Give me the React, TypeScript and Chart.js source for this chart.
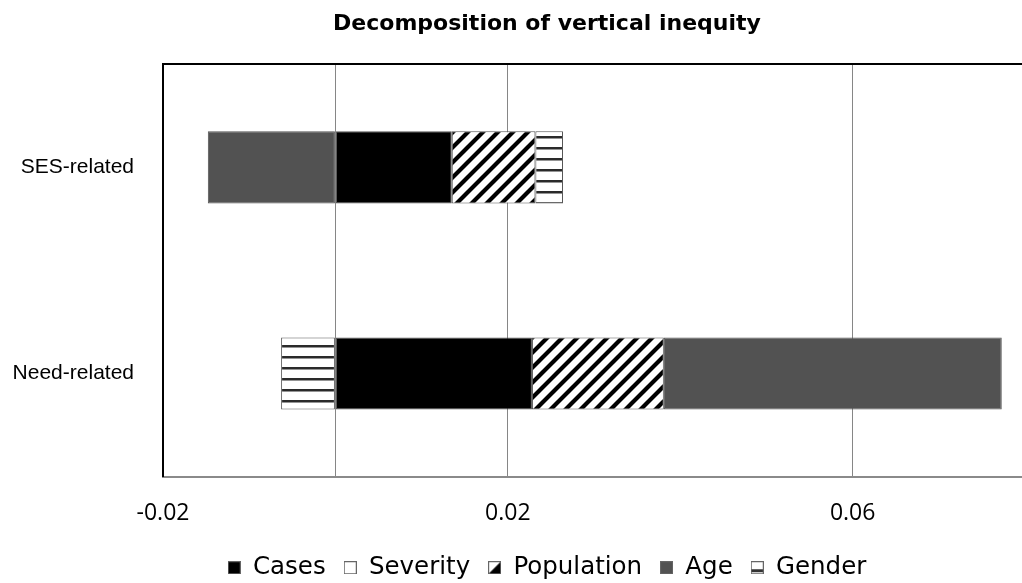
import React, { useEffect, useRef } from 'react';
import { Chart, registerables } from 'chart.js';

Chart.register(...registerables);

// ---- data ----
const categories = ['SES-related', 'Need-related'];
const seriesNames = ['Cases', 'Severity', 'Population', 'Age', 'Gender'];
const casesValues = [0.0135, 0.0228];
const severityValues = [0, 0];
const populationValues = [0.0097, 0.0153];
const ageValues = [-0.0148, 0.0392];
const genderValues = [0.0032, -0.0063];
const xTickValues = [-0.02, 0, 0.02, 0.06];
const xTickLabels = ['-0.02', '', '0.02', '0.06'];
const xMin = -0.02;
const xMax = 0.088;
const titleText = 'Decomposition of vertical inequity';

// ---- layout constants ----
const W = 1094;
const H = 590;
const LEGEND_H = 52;
const PLOT_BOTTOM = 477;

function makeTile(size: number, draw: (g: CanvasRenderingContext2D, s: number) => void) {
  const c = document.createElement('canvas');
  c.width = size;
  c.height = size;
  const g = c.getContext('2d')!;
  draw(g, size);
  return c;
}

function diagTile() {
  return makeTile(15, (g, s) => {
    g.fillStyle = '#fff';
    g.fillRect(0, 0, s, s);
    g.strokeStyle = '#000';
    g.lineWidth = 4.2;
    g.beginPath();
    g.moveTo(-s / 2, s * 1.5);
    g.lineTo(s * 1.5, -s / 2);
    g.moveTo(-s / 2, s / 2);
    g.lineTo(s / 2, -s / 2);
    g.moveTo(s / 2, s * 1.5);
    g.lineTo(s * 1.5, s / 2);
    g.stroke();
  });
}

function hTile() {
  return makeTile(11, (g, s) => {
    g.fillStyle = '#fff';
    g.fillRect(0, 0, s, s);
    g.fillStyle = '#2a2a2a';
    g.fillRect(0, 4, s, 2.5);
  });
}

function legendIcon(kind: string) {
  return makeTile(13, (g, s) => {
    g.fillStyle = '#fff';
    g.fillRect(0, 0, s, s);
    if (kind === 'Cases') {
      g.fillStyle = '#000';
      g.fillRect(0, 0, s, s);
    } else if (kind === 'Age') {
      g.fillStyle = '#525252';
      g.fillRect(0, 0, s, s);
    } else if (kind === 'Population') {
      g.fillStyle = '#000';
      g.beginPath();
      g.moveTo(s, 0);
      g.lineTo(s, s);
      g.lineTo(0, s);
      g.closePath();
      g.fill();
    } else if (kind === 'Gender') {
      g.fillStyle = '#333';
      g.fillRect(0, 8, s, 3);
    }
    g.strokeStyle = '#666';
    g.lineWidth = 1;
    g.strokeRect(0.5, 0.5, s - 1, s - 1);
  });
}

export default function App() {
  const ref = useRef<HTMLCanvasElement>(null);

  useEffect(() => {
    const canvas = ref.current!;
    const ctx = canvas.getContext('2d')!;
    const popPattern = ctx.createPattern(diagTile(), 'repeat')!;
    const genPattern = ctx.createPattern(hTile(), 'repeat')!;
    const icons = seriesNames.map((n) => legendIcon(n));

    Chart.defaults.font.family = "'DejaVu Sans', sans-serif";
    Chart.defaults.color = '#000';

    const border = '#555555';
    const chart = new Chart(ctx, {
      type: 'bar',
      data: {
        labels: categories,
        datasets: [
          { label: seriesNames[0], data: casesValues, backgroundColor: '#000', borderColor: border, borderWidth: 1, borderSkipped: false },
          { label: seriesNames[1], data: severityValues, backgroundColor: '#fff', borderColor: border, borderWidth: 0, borderSkipped: false },
          { label: seriesNames[2], data: populationValues, backgroundColor: popPattern as any, borderColor: border, borderWidth: 1, borderSkipped: false },
          { label: seriesNames[3], data: ageValues, backgroundColor: '#525252', borderColor: border, borderWidth: 1, borderSkipped: false },
          { label: seriesNames[4], data: genderValues, backgroundColor: genPattern as any, borderColor: border, borderWidth: 1, borderSkipped: false },
        ],
      },
      options: {
        indexAxis: 'y',
        responsive: false,
        animation: false,
        devicePixelRatio: 1,
        layout: { padding: 0 },
        datasets: { bar: { categoryPercentage: 1, barPercentage: 0.35 } },
        scales: {
          x: {
            type: 'linear',
            stacked: true,
            min: xMin,
            max: xMax,
            afterBuildTicks: (s: any) => {
              s.ticks = xTickValues.map((v) => ({ value: v }));
            },
            afterFit: (s: any) => {
              s.height = H - LEGEND_H - PLOT_BOTTOM;
            },
            grid: { color: '#868686', lineWidth: 1, drawTicks: false },
            border: { display: true, color: '#8a8a8a', width: 2 },
            ticks: {
              padding: 23,
              font: { family: "'Open Sans', sans-serif", size: 23 },
              color: '#000',
              callback: (v: any) => {
                const i = xTickValues.findIndex((t) => Math.abs(t - Number(v)) < 1e-9);
                return i >= 0 ? xTickLabels[i] : '';
              },
            },
          },
          x2: {
            type: 'linear',
            position: 'top',
            min: xMin,
            max: xMax,
            grid: { display: false, drawTicks: false },
            ticks: { display: false },
            border: { display: true, color: '#000', width: 2 },
            afterFit: (s: any) => {
              s.height = 0;
            },
          },
          y: {
            stacked: true,
            grid: { display: false, drawTicks: false },
            border: { display: true, color: '#000', width: 2 },
            afterFit: (s: any) => {
              s.width = 163;
            },
            ticks: {
              padding: 29,
              font: { family: "'Liberation Sans', Arial, sans-serif", size: 21 },
              color: '#000',
            },
          },
        },
        plugins: {
          title: {
            display: true,
            text: titleText,
            color: '#000',
            font: { family: "'DejaVu Sans', sans-serif", size: 22, weight: 'bold' },
            padding: { top: 11, bottom: 27 },
          },
          legend: {
            position: 'bottom',
            labels: {
              usePointStyle: true,
              pointStyleWidth: 13,
              boxHeight: 13,
              padding: 18,
              color: '#000',
              font: { family: "'DejaVu Sans', sans-serif", size: 24.5 },
              generateLabels: (c: any) =>
                (Chart.defaults.plugins.legend.labels.generateLabels as any)(c).map((l: any, i: number) => ({
                  ...l,
                  pointStyle: icons[i],
                })),
            },
          },
          tooltip: { enabled: false },
        },
      } as any,
    });
    return () => chart.destroy();
  }, []);

  return (
    <div style={{ position: 'fixed', left: 0, top: 0, width: 1022, height: 583, overflow: 'hidden', background: '#fff' }}>
      <canvas ref={ref} width={W} height={H} style={{ display: 'block', width: W, height: H }} />
    </div>
  );
}
